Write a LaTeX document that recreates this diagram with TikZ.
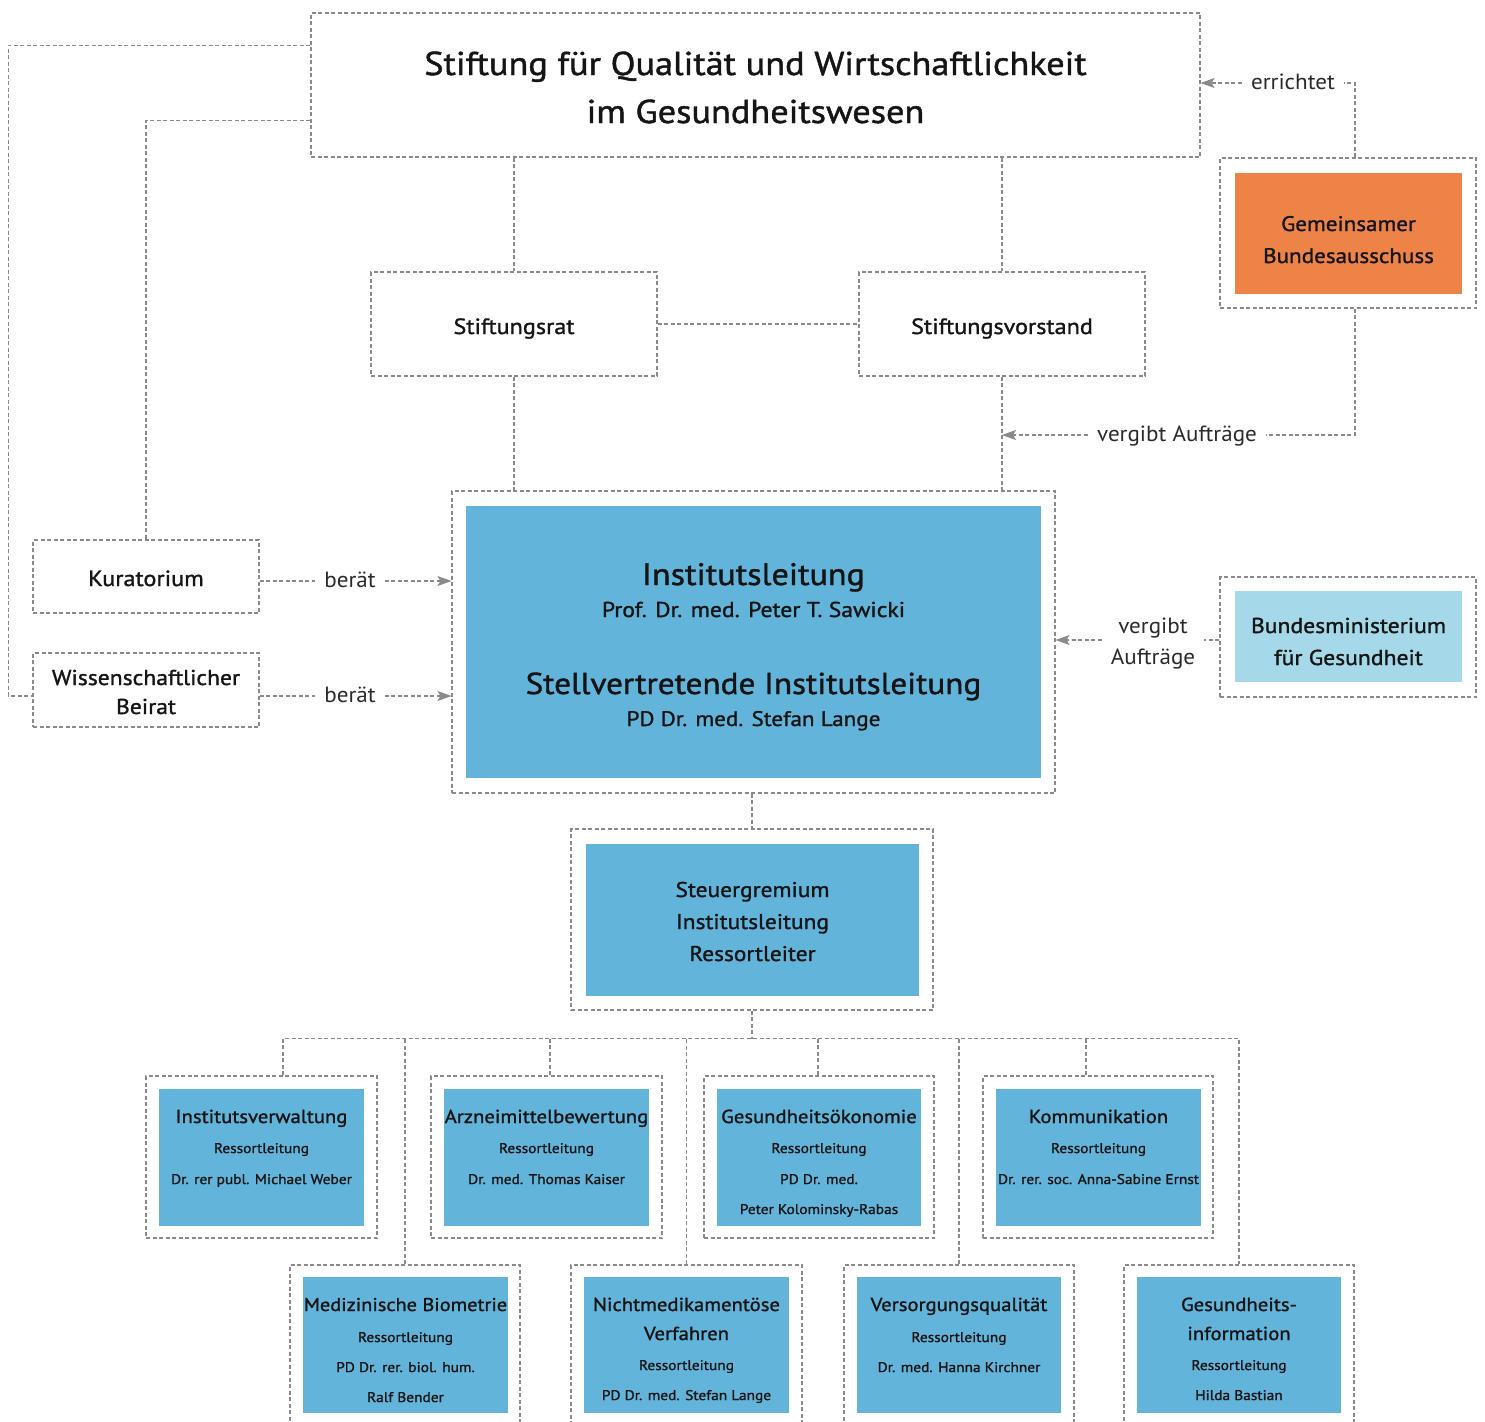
\documentclass[tikz,border=0pt]{standalone}
\usepackage{fontspec}
\setmainfont{PT Sans}
\newfontfamily\boxfont{PT Sans}[FakeBold=1.3, FakeStretch=1.1]
\newfontfamily\labfont{PT Sans}[FakeStretch=1.05]
\usetikzlibrary{arrows.meta,calc,fit}
\definecolor{ibblue}{HTML}{62B4DA}
\definecolor{lightblue}{HTML}{A5D8E8}
\definecolor{gbaorange}{HTML}{ED8347}
\definecolor{linegrey}{HTML}{8A8A8A}
\definecolor{txtcol}{HTML}{151515}
\definecolor{labcol}{HTML}{2A2A2A}
\newcommand{\rbox}[6]{\node[#2, fit={(#3,#4) (#5,#6)}] (#1) {};}
\newcommand{\txtline}[5]{\node[anchor=base, inner sep=0pt, font=\boxfont\fontsize{#4}{#4}\selectfont, text=txtcol] (#1) at (#2,#3) {#5};}
\begin{document}
\begin{tikzpicture}[x=1pt,y=-1pt,
  dline/.style={draw=linegrey, line width=1.1pt, dash pattern=on 4pt off 2.5pt},
  frame/.style={dline, rectangle, inner sep=0pt},
  bluebox/.style={rectangle, fill=ibblue, inner sep=0pt},
  lightbox/.style={rectangle, fill=lightblue, inner sep=0pt},
  orangebox/.style={rectangle, fill=gbaorange, inner sep=0pt},
  arr/.style={dline, -{Stealth[length=14pt,width=10pt,inset=3pt,fill=linegrey]}},
  lab/.style={font=\labfont\fontsize{22}{31}\selectfont, text=labcol, inner xsep=9pt, inner ysep=0pt, text height=14pt, text depth=2pt, align=center}
]
\useasboundingbox (0,0) rectangle (1485,1421);
\clip (0,0) rectangle (1485,1421);

% ---------- boxes ----------
\rbox{top}{frame}{311}{13}{1200}{157}
\rbox{srat}{frame}{371}{272}{657}{376}
\rbox{svor}{frame}{859}{272}{1145}{376}
\rbox{gbaO}{frame}{1220}{158}{1476}{308}
\rbox{gbaI}{orangebox}{1235}{173}{1462}{294}
\rbox{ilO}{frame}{452}{491}{1055}{793}
\rbox{ilI}{bluebox}{466}{506}{1041}{778}
\rbox{kur}{frame}{33}{540}{259}{613}
\rbox{wiss}{frame}{33}{653}{259}{727}
\rbox{bmgO}{frame}{1220}{577}{1476}{697}
\rbox{bmgI}{lightbox}{1235}{591}{1462}{682}
\rbox{stO}{frame}{571}{829}{933}{1010}
\rbox{stI}{bluebox}{586}{844}{919}{996}
% row 1
\rbox{aO}{frame}{146}{1076}{377}{1238}
\rbox{aI}{bluebox}{159}{1089}{364}{1226}
\rbox{bO}{frame}{431}{1076}{662}{1238}
\rbox{bI}{bluebox}{444}{1089}{649}{1226}
\rbox{cO}{frame}{704}{1076}{934}{1238}
\rbox{cI}{bluebox}{717}{1089}{921}{1226}
\rbox{dO}{frame}{983}{1076}{1213}{1238}
\rbox{dI}{bluebox}{996}{1089}{1201}{1226}
% row 2
\rbox{eO}{frame}{290}{1265}{520}{1440}
\rbox{eI}{bluebox}{303}{1277}{508}{1413}
\rbox{fO}{frame}{571}{1265}{802}{1440}
\rbox{fI}{bluebox}{584}{1277}{789}{1413}
\rbox{gO}{frame}{844}{1265}{1074}{1440}
\rbox{gI}{bluebox}{857}{1277}{1061}{1413}
\rbox{hO}{frame}{1124}{1265}{1354}{1440}
\rbox{hI}{bluebox}{1137}{1277}{1341}{1413}

% ---------- texts ----------
\txtline{t1}{755.5}{75}{33}{Stiftung für Qualität und Wirtschaftlichkeit}
\txtline{t2}{755.5}{123}{33}{im Gesundheitswesen}
\txtline{sratT}{514}{334}{22}{Stiftungsrat}
\txtline{svorT}{1002}{334}{22}{Stiftungsvorstand}
\txtline{gbaT1}{1348.5}{231}{21}{Gemeinsamer}
\txtline{gbaT2}{1348.5}{263}{21}{Bundesausschuss}
\txtline{kurT}{146}{586}{22}{Kuratorium}
\txtline{wissT1}{146}{685}{21.5}{Wissenschaftlicher}
\txtline{wissT2}{146}{714}{21.5}{Beirat}
\txtline{bmgT1}{1348.5}{633}{21.5}{Bundesministerium}
\txtline{bmgT2}{1348.5}{665}{21.5}{für Gesundheit}
\txtline{ilT1}{753.5}{585}{31}{Institutsleitung}
\txtline{ilT2}{753.5}{617}{21.5}{Prof. Dr. med. Peter T. Sawicki}
\txtline{ilT3}{753.5}{694}{30.2}{Stellvertretende Institutsleitung}
\txtline{ilT4}{753.5}{726}{21}{PD Dr. med. Stefan Lange}
\txtline{stT1}{752.5}{897}{21.3}{Steuergremium}
\txtline{stT2}{752.5}{929}{21.3}{Institutsleitung}
\txtline{stT3}{752.5}{961}{21.3}{Ressortleiter}
% row 1 texts
\txtline{aT1}{261.5}{1123}{18.8}{Institutsverwaltung}
\txtline{aT2}{261.5}{1153}{14}{Ressortleitung}
\txtline{aT3}{261.5}{1184}{14}{Dr. rer publ. Michael Weber}
\txtline{bT1}{546.5}{1123}{18.8}{Arzneimittelbewertung}
\txtline{bT2}{546.5}{1153}{14}{Ressortleitung}
\txtline{bT3}{546.5}{1184}{14}{Dr. med. Thomas Kaiser}
\txtline{cT1}{819}{1123}{18.8}{Gesundheitsökonomie}
\txtline{cT2}{819}{1153}{14}{Ressortleitung}
\txtline{cT3}{819}{1184}{14}{PD Dr. med.}
\txtline{cT4}{819}{1214}{14}{Peter Kolominsky-Rabas}
\txtline{dT1}{1098.5}{1123}{18.8}{Kommunikation}
\txtline{dT2}{1098.5}{1153}{14}{Ressortleitung}
\txtline{dT3}{1098.5}{1184}{14}{Dr. rer. soc. Anna-Sabine Ernst}
% row 2 texts
\txtline{eT1}{405.5}{1311}{18.5}{Medizinische Biometrie}
\txtline{eT2}{405.5}{1342}{14}{Ressortleitung}
\txtline{eT3}{405.5}{1372}{14}{PD Dr. rer. biol. hum.}
\txtline{eT4}{405.5}{1402}{14}{Ralf Bender}
\txtline{fT1}{686.5}{1311}{18.8}{Nichtmedikamentöse}
\txtline{fT2}{686.5}{1340}{18.8}{Verfahren}
\txtline{fT3}{686.5}{1370}{14}{Ressortleitung}
\txtline{fT4}{686.5}{1400}{14}{PD Dr. med. Stefan Lange}
\txtline{gT1}{959}{1311}{18.8}{Versorgungsqualität}
\txtline{gT2}{959}{1342}{14}{Ressortleitung}
\txtline{gT3}{959}{1372}{14}{Dr. med. Hanna Kirchner}
\txtline{hT1}{1239}{1311}{18.8}{Gesundheits-}
\txtline{hT2}{1239}{1340}{18.8}{information}
\txtline{hT3}{1239}{1370}{14}{Ressortleitung}
\txtline{hT4}{1239}{1400}{14}{Hilda Bastian}

% ---------- labels ----------
\node[lab] (errL) at (1293,83) {errichtet};
\node[lab] (vaL) at (1177,435) {vergibt Aufträge};
\node[lab] (ber1) at (350,581) {berät};
\node[lab] (ber2) at (350,696) {berät};
\node[lab, text height=, text depth=] (vbL) at (1153,644) {vergibt\\Aufträge};

% ---------- connectors ----------
% left long lines
\draw[dline] ($(top.north west)+(0,33)$) -- ++(-302,0) |- ($(wiss.west)+(0,6)$);
\draw[dline] ($(top.north west)+(0,108)$) -| (kur.north);
% top to Stiftungsrat / -vorstand
\draw[dline] (srat.north |- top.south) -- (srat.north);
\draw[dline] (svor.north |- top.south) -- (svor.north);
\draw[dline] (srat.east) -- (svor.west);
\draw[dline] (srat.south) -- (srat.south |- ilO.north);
\draw[dline] (svor.south) -- (svor.south |- ilO.north);
% errichtet
\draw[dline] ($(gbaO.north)+(7,0)$) |- (errL.east);
\draw[arr] (errL.west) -- (errL.west -| top.east);
% vergibt Auftraege (G-BA)
\draw[dline] ($(gbaO.south)+(7,0)$) |- (vaL.east);
\draw[arr] (vaL.west) -- (vaL.west -| svor.south);
% beraet
\draw[dline] (ber1.west -| kur.east) -- (ber1.west);
\draw[arr] (ber1.east) -- (ber1.east -| ilO.west);
\draw[dline] (ber2.west -| wiss.east) -- (ber2.west);
\draw[arr] (ber2.east) -- (ber2.east -| ilO.west);
% vergibt Auftraege (BMG)
\coordinate (bmgLine) at ($(bmgO.west)+(0,3)$);
\draw[dline] (bmgLine) -- (vbL.east |- bmgLine);
\draw[arr] (vbL.west |- bmgLine) -- (bmgLine -| ilO.east);
% Institutsleitung to Steuergremium
\draw[dline] (stO.north |- ilO.south) -- (stO.north);
% bus
\coordinate (bus) at ($(stO.south)+(0,28)$);
\draw[dline] (stO.south) -- (bus);
\draw[dline] ($(aO.north)+(21.5,0)$) coordinate (adrop) -- (adrop |- bus) -- (hO.north |- bus) -- (hO.north);
\draw[dline] ($(bO.north)+(3.5,0)$) coordinate (bdrop) -- (bdrop |- bus);
\draw[dline] ($(cO.north)+(-1,0)$) coordinate (cdrop) -- (cdrop |- bus);
\draw[dline] ($(dO.north)+(-12,0)$) coordinate (ddrop) -- (ddrop |- bus);
\draw[dline] (eO.north) -- (eO.north |- bus);
\draw[dline] (fO.north) -- (fO.north |- bus);
\draw[dline] (gO.north) -- (gO.north |- bus);
\end{tikzpicture}
\end{document}
